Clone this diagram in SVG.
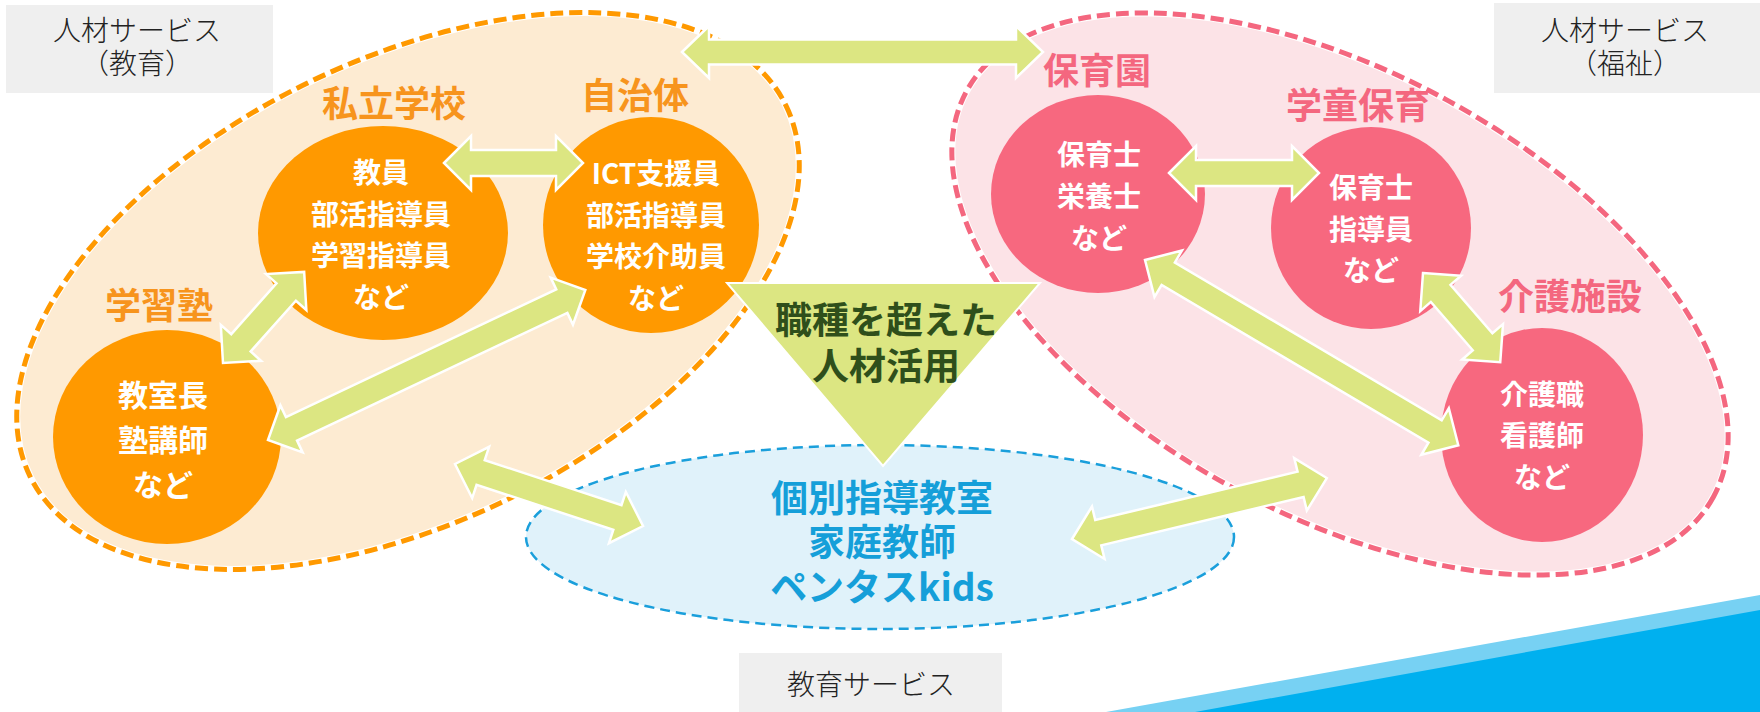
<svg xmlns="http://www.w3.org/2000/svg" width="1760" height="712" viewBox="0 0 1760 712">
<style>
.lbl{font-family:"Noto Sans CJK JP","Noto Sans",sans-serif;font-weight:300;font-size:28px;fill:#222;text-anchor:middle}
.ot{font-family:"Noto Sans CJK JP","Noto Sans",sans-serif;font-weight:700;font-size:36px;fill:#F7941D;text-anchor:middle}
.pt{font-family:"Noto Sans CJK JP","Noto Sans",sans-serif;font-weight:700;font-size:36px;fill:#F4677F;text-anchor:middle}
.wt{font-family:"Noto Sans CJK JP","Noto Sans",sans-serif;font-weight:700;font-size:28px;fill:#fff;text-anchor:middle}
.gt{font-family:"Noto Sans CJK JP","Noto Sans",sans-serif;font-weight:700;font-size:37px;fill:#2F4F1B;text-anchor:middle}
.bt{font-family:"Noto Sans CJK JP","Noto Sans",sans-serif;font-weight:700;font-size:37px;fill:#159FD9;text-anchor:middle}
.oc{fill:#FF9900}
.pc{fill:#F7687F}
.arr{fill:#DCE682;stroke:#fff;stroke-width:2.5;stroke-linejoin:miter}
.box{fill:#EFEFEF}
</style>
<rect width="1760" height="712" fill="#fff"/>
<!-- bottom-right decoration -->
<polygon points="1106,712 1760,595 1760,712" fill="#77D1F3"/>
<polygon points="1195,712 1760,610 1760,712" fill="#00B0EF"/>
<!-- label boxes -->
<g id="box-edu-hr">
<rect class="box" x="6" y="5" width="267" height="88"/>
<text class="lbl" x="137" y="41">人材サービス</text>
<text class="lbl" x="137" y="74">（教育）</text>
</g>
<g id="box-welfare-hr">
<rect class="box" x="1494" y="3" width="266" height="90"/>
<text class="lbl" x="1625" y="41">人材サービス</text>
<text class="lbl" x="1625" y="74">（福祉）</text>
</g>
<g id="box-edu">
<rect class="box" x="739" y="653" width="263" height="59"/>
<text class="lbl" x="871" y="695">教育サービス</text>
</g>
<!-- groups -->
<g id="group-education">
<ellipse cx="408" cy="291" rx="421" ry="231" transform="rotate(-26.2 408 291)" fill="#FDEBD2" stroke="#fff" stroke-width="7"/>
<ellipse cx="408" cy="291" rx="421" ry="231" transform="rotate(-26.2 408 291)" fill="none" stroke="#FF9900" stroke-width="5" stroke-dasharray="13 6"/>
</g>
<g id="group-welfare">
<ellipse cx="1340" cy="294" rx="425" ry="221.5" transform="rotate(28.5 1340 294)" fill="#FCE3E7" stroke="#fff" stroke-width="7"/>
<ellipse cx="1340" cy="294" rx="425" ry="221.5" transform="rotate(28.5 1340 294)" fill="none" stroke="#F4677F" stroke-width="5" stroke-dasharray="13 6"/>
</g>
<g id="node-pentas">
<ellipse cx="880" cy="537" rx="354" ry="92" fill="#E0F2FA" stroke="#1A9FDB" stroke-width="2.5" stroke-dasharray="10 6"/>
<text class="bt" x="882" y="512">個別指導教室</text>
<text class="bt" x="882" y="556">家庭教師</text>
<text class="bt" x="882" y="601">ペンタスkids</text>
</g>
<!-- nodes -->
<g id="node-private-school">
<text class="ot" x="394" y="117">私立学校</text>
<ellipse class="oc" cx="383" cy="233" rx="125" ry="107"/>
<text class="wt" x="381" y="183">教員</text>
<text class="wt" x="381" y="225">部活指導員</text>
<text class="wt" x="381" y="266">学習指導員</text>
<text class="wt" x="381" y="308">など</text>
</g>
<g id="node-municipality">
<text class="ot" x="635" y="109">自治体</text>
<ellipse class="oc" cx="651" cy="225" rx="108" ry="108"/>
<text class="wt" x="656" y="184">ICT支援員</text>
<text class="wt" x="656" y="226">部活指導員</text>
<text class="wt" x="656" y="267">学校介助員</text>
<text class="wt" x="656" y="309">など</text>
</g>
<g id="node-cram-school">
<text class="ot" x="159" y="319">学習塾</text>
<ellipse class="oc" cx="167" cy="437" rx="114" ry="107"/>
<text class="wt" x="163" y="406" style="font-size:30px">教室長</text>
<text class="wt" x="163" y="451" style="font-size:30px">塾講師</text>
<text class="wt" x="163" y="496" style="font-size:30px">など</text>
</g>
<g id="node-nursery">
<text class="pt" x="1097" y="84">保育園</text>
<ellipse class="pc" cx="1098" cy="194" rx="107" ry="99"/>
<text class="wt" x="1099" y="165">保育士</text>
<text class="wt" x="1099" y="207">栄養士</text>
<text class="wt" x="1099" y="249">など</text>
</g>
<g id="node-afterschool">
<text class="pt" x="1358" y="119">学童保育</text>
<ellipse class="pc" cx="1371" cy="228" rx="100" ry="101"/>
<text class="wt" x="1371" y="198">保育士</text>
<text class="wt" x="1371" y="240">指導員</text>
<text class="wt" x="1371" y="281">など</text>
</g>
<g id="node-care">
<text class="pt" x="1570" y="310">介護施設</text>
<ellipse class="pc" cx="1542" cy="435" rx="101" ry="107"/>
<text class="wt" x="1542" y="405">介護職</text>
<text class="wt" x="1542" y="446">看護師</text>
<text class="wt" x="1542" y="488">など</text>
</g>
<!-- connectors -->
<g id="connectors">
<path class="arr" transform="translate(682 52)" d="M0 0L27 -26L27 -12.5L334 -12.5L334 -26L361 0L334 26L334 12.5L27 12.5L27 26Z"/>
<path class="arr" transform="translate(444 163)" d="M0 0L27 -27L27 -13L112 -13L112 -27L139 0L112 27L112 13L27 13L27 27Z"/>
<path class="arr" transform="translate(223 363) rotate(-48.3)" d="M0 0L27 -27L27 -13L95 -13L95 -27L122 0L95 27L95 13L27 13L27 27Z"/>
<path class="arr" transform="translate(268 440) rotate(-25.3)" d="M0 0L26 -26L26 -13L325 -13L325 -26L351 0L325 26L325 13L26 13L26 26Z"/>
<path class="arr" transform="translate(455 464) rotate(18.25)" d="M0 0L27 -27L27 -13L171 -13L171 -27L198 0L171 27L171 13L27 13L27 27Z"/>
<path class="arr" transform="translate(1072 539) rotate(-13.45)" d="M0 0L27 -27L27 -13L235 -13L235 -27L262 0L235 27L235 13L27 13L27 27Z"/>
<path class="arr" transform="translate(1169 173)" d="M0 0L27 -27L27 -13L123 -13L123 -27L150 0L123 27L123 13L27 13L27 27Z"/>
<path class="arr" transform="translate(1145 260) rotate(30.6)" d="M0 0L27 -27L27 -13L337 -13L337 -27L364 0L337 27L337 13L27 13L27 27Z"/>
<path class="arr" transform="translate(1423 273) rotate(49.1)" d="M0 0L27 -27L27 -13L91 -13L91 -27L118 0L91 27L91 13L27 13L27 27Z"/>
</g>
<!-- centre triangle -->
<g id="node-cross-job">
<polygon points="727,283 1040,283 883,466" fill="#DCE682" stroke="#fff" stroke-width="2"/>
<text class="gt" x="886" y="334">職種を超えた</text>
<text class="gt" x="886" y="380">人材活用</text>
</g>
</svg>
